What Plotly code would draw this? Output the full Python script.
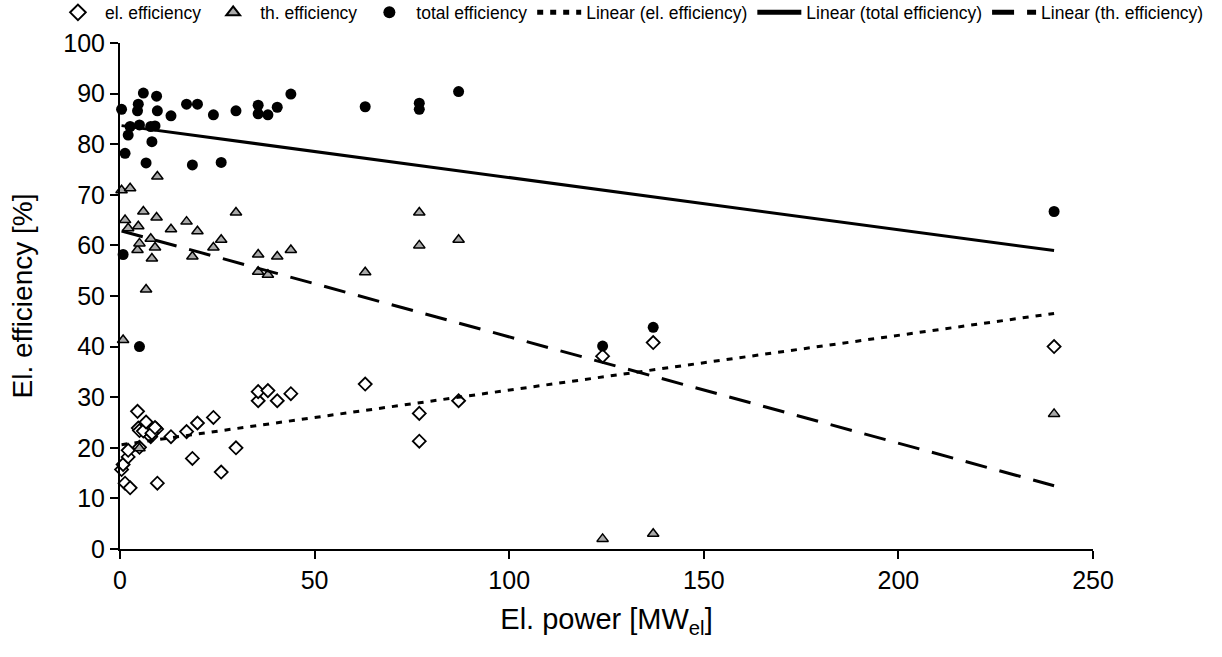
import numpy as np
import plotly.graph_objects as go

# Electrical power [MW_el]
power = [0.4, 1.3, 0.8, 2.1, 2.6, 2.1, 4.7, 4.5, 5.0, 5.0, 6.0, 6.7, 9.6, 9.4, 7.9, 8.2,
         9.0, 13.1, 17.1, 18.6, 19.9, 24.0, 26.0, 29.8, 35.5, 35.5, 38.0, 40.4, 43.9,
         63.0, 76.9, 76.9, 87.0, 124.0, 137.0, 240.0]
el_eff = [15.7, 13.0, 16.7, 18.2, 12.1, 19.5, 23.9, 27.2, 23.4, 20.1, 23.3, 25.1, 13.0, 23.7,
          22.2, 22.9, 24.0, 22.2, 23.2, 17.9, 24.9, 26.0, 15.2, 20.0, 29.3, 31.1, 31.3, 29.3,
          30.7, 32.6, 21.3, 26.8, 29.3, 38.1, 40.8, 40.0]
th_eff = [70.9, 65.0, 41.3, 63.4, 71.3, None, 63.8, 59.1, 60.4, 19.9, 66.7, 51.3, 73.6, 65.5,
          61.3, 57.4, 59.6, 63.2, 64.7, 57.8, 62.8, 59.6, 61.1, 66.5, 58.2, 54.8, 54.2, 57.8,
          59.1, 54.7, 66.5, 60.0, 61.1, 2.0, 3.0, 26.7]
tot_eff = [86.9, 78.2, 58.2, 81.8, 83.5, None, 87.9, 86.6, 83.8, 40.0, 90.1, 76.3, 86.6, 89.5,
           83.5, 80.5, 83.6, 85.6, 87.9, 75.9, 87.9, 85.8, 76.4, 86.6, 87.7, 86.0, 85.8, 87.3,
           89.9, 87.4, 88.1, 86.9, 90.4, 40.1, 43.8, 66.7]


def linfit(xs, ys):
    pts = [(x, y) for x, y in zip(xs, ys) if y is not None]
    px = np.array([p[0] for p in pts])
    py = np.array([p[1] for p in pts])
    k, d = np.polyfit(px, py, 1)
    xr = np.array([px.min(), px.max()])
    return xr, k * xr + d


FONT = "Liberation Sans, Arial, sans-serif"
W, H = 1222, 657
fig = go.Figure()

fig.add_trace(go.Scatter(x=power, y=el_eff, mode="markers", name="el. efficiency",
                         marker=dict(symbol="diamond", size=10, color="white",
                                     line=dict(color="black", width=1.8)), cliponaxis=False))
fig.add_trace(go.Scatter(x=power, y=th_eff, mode="markers", name="th. efficiency",
                         marker=dict(symbol="triangle-up", size=10, color="#a9a9a9",
                                     line=dict(color="black", width=1.5)), cliponaxis=False))
fig.add_trace(go.Scatter(x=power, y=tot_eff, mode="markers", name="total efficiency",
                         marker=dict(symbol="circle", size=11, color="black",
                                     line=dict(color="black", width=0)), cliponaxis=False))

xe, ye = linfit(power, el_eff)
fig.add_trace(go.Scatter(x=xe, y=ye, mode="lines", name="Linear (el. efficiency)",
                         line=dict(color="black", width=3, dash="6px,7px")))
xt, yt = linfit(power, tot_eff)
fig.add_trace(go.Scatter(x=xt, y=yt, mode="lines", name="Linear (total efficiency)",
                         line=dict(color="black", width=3)))
xh, yh = linfit(power, th_eff)
fig.add_trace(go.Scatter(x=xh, y=yh, mode="lines", name="Linear (th. efficiency)",
                         line=dict(color="black", width=3, dash="22px,13px")))

fig.update_layout(
    width=W, height=H,
    margin=dict(l=0, r=0, t=43, b=108, autoexpand=False),
    paper_bgcolor="white", plot_bgcolor="white",
    font=dict(family=FONT, color="black"),
    showlegend=True,
    legend=dict(orientation="h", x=0.5155, xanchor="center", xref="paper",
                y=0.981, yanchor="middle", yref="container",
                font=dict(size=17.5, family=FONT), itemwidth=44,
                itemsizing="constant", bgcolor="rgba(0,0,0,0)", traceorder="normal",
                tracegroupgap=0),
    xaxis=dict(domain=[120 / W, 1093 / W], range=[0, 250],
               tickvals=[0, 50, 100, 150, 200, 250], showgrid=False,
               zeroline=False, showline=True, linecolor="black", linewidth=2,
               ticks="outside", ticklen=8, tickwidth=2, tickcolor="black",
               tickfont=dict(size=25, family=FONT),
               title=dict(text="El. power [MW<sub>el</sub>]", font=dict(size=29, family=FONT),
                          standoff=16)),
    yaxis=dict(range=[0, 100], tickvals=list(range(0, 101, 10)), showgrid=False,
               zeroline=False, showline=True, linecolor="black", linewidth=2,
               ticks="outside", ticklen=8, tickwidth=2, tickcolor="black",
               tickfont=dict(size=25, family=FONT),
               title=dict(text="El. efficiency [%]", font=dict(size=28, family=FONT),
                          standoff=22)),
)

fig.write_html("out.html")
